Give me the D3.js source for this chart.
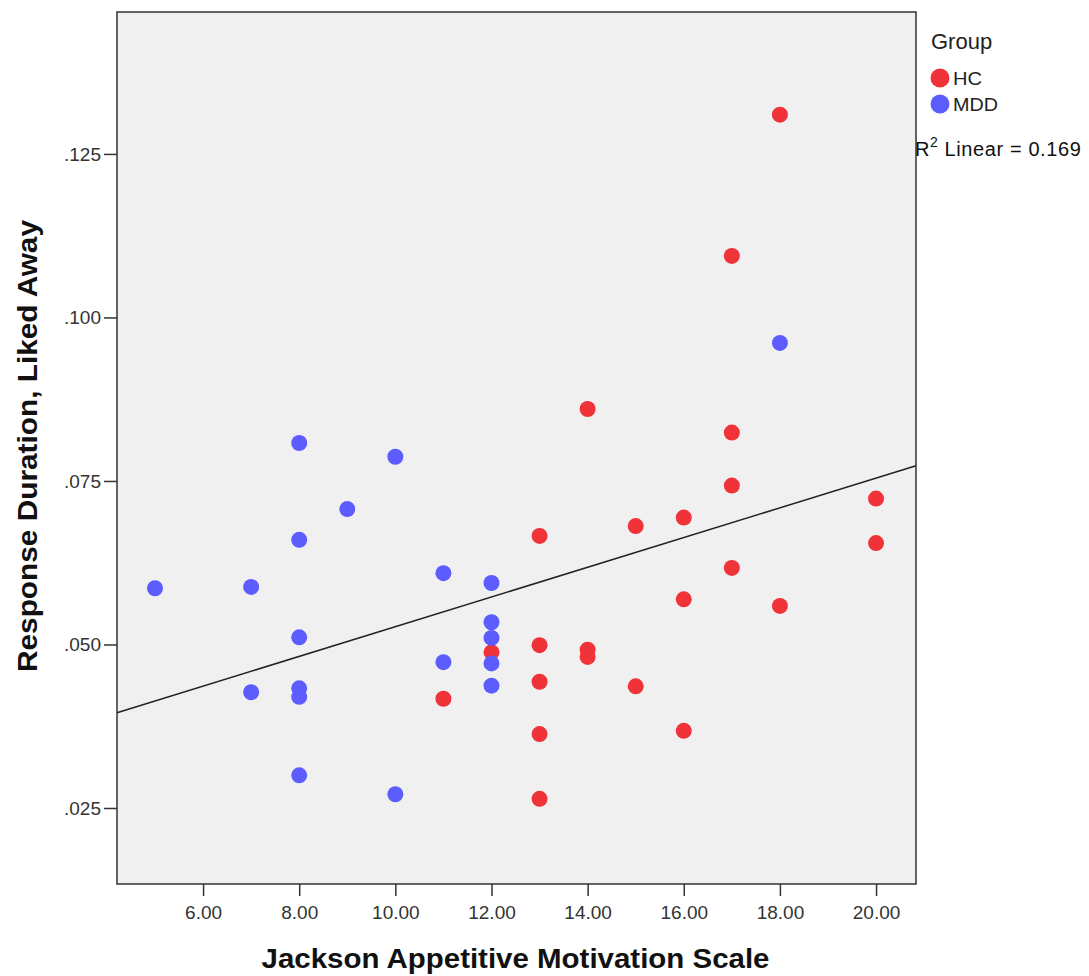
<!DOCTYPE html>
<html>
<head>
<meta charset="utf-8">
<script src="https://cdn.jsdelivr.net/npm/d3@7"></script>
<style>
  body { margin: 0; background: #fff; }
  text { font-family: "Liberation Sans", Arial, sans-serif; }
</style>
</head>
<body>
<div id="chart"></div>
<script>
// data
const hcX = [11, 12, 13, 13, 13, 13, 13, 14, 14, 14, 15, 15, 16, 16, 16, 17, 17, 17, 17, 18, 18, 20, 20];
const hcY = [.0417, .0488, .0666, .0499, .0443, .0363, .0264, .0860, .0492, .0481, .0681, .0436, .0694, .0569, .0368,
             .1094, .0824, .0743, .0617, .1310, .0559, .0723, .0655];
const mddX = [5, 7, 7, 8, 8, 8, 8, 8, 8, 9, 10, 10, 11, 11, 12, 12, 12, 12, 12, 18];
const mddY = [.0586, .0588, .0427, .0808, .0660, .0511, .0433, .0420, .0300, .0707, .0787, .0271, .0609, .0473,
              .0594, .0534, .0510, .0471, .0437, .0961];
const groups = ["HC", "MDD"];
const groupColors = ["#ef3338", "#5c5cff"];
const xTicks = [6, 8, 10, 12, 14, 16, 18, 20];
const yTicks = [.025, .050, .075, .100, .125];
// fit line (total sample)
const fitIntercept = 0.03001;
const fitSlope = 0.002271;
const rSquared = 0.169;

const width = 1089, height = 976;
const plot = { left: 117, top: 12, right: 916, bottom: 884 };

const svg = d3.select("#chart").append("svg")
  .attr("width", width)
  .attr("height", height);

const x = d3.scaleLinear().domain([4.2095, 20.831]).range([plot.left, plot.right]);
const y = d3.scaleLinear().domain([0.01338, 0.1467]).range([plot.bottom, plot.top]);

// plot background
svg.append("rect")
  .attr("x", plot.left).attr("y", plot.top)
  .attr("width", plot.right - plot.left)
  .attr("height", plot.bottom - plot.top)
  .attr("fill", "#f0f0f0");

// axes
const xAxis = svg.append("g")
  .attr("transform", `translate(0,${plot.bottom})`)
  .call(d3.axisBottom(x).tickValues(xTicks).tickSize(12).tickSizeOuter(0).tickPadding(10)
    .tickFormat(d3.format(".2f")));
const yAxis = svg.append("g")
  .attr("transform", `translate(${plot.left},0)`)
  .call(d3.axisLeft(y).tickValues(yTicks).tickSize(13).tickSizeOuter(0).tickPadding(3)
    .tickFormat(d => d3.format(".3f")(d).replace(/^0/, "")));

[xAxis, yAxis].forEach(g => {
  g.select(".domain").remove();
  g.selectAll("line").attr("stroke", "#333").attr("stroke-width", 1.5);
  g.selectAll("text")
    .attr("fill", "#333")
    .style("font-size", "19px")
    .style("font-family", "'Liberation Sans', Arial, sans-serif");
});

// regression line
const [x0, x1] = x.domain();
svg.append("line")
  .attr("x1", x(x0)).attr("y1", y(fitIntercept + fitSlope * x0))
  .attr("x2", x(x1)).attr("y2", y(fitIntercept + fitSlope * x1))
  .attr("stroke", "#222")
  .attr("stroke-width", 1.5);

// points
const pointSets = [
  hcX.map((v, i) => ({ x: v, y: hcY[i], g: 0 })),
  mddX.map((v, i) => ({ x: v, y: mddY[i], g: 1 }))
];
const pts = svg.append("g");
pointSets.forEach(set => {
  pts.selectAll(null)
    .data(set)
    .enter()
    .append("circle")
    .attr("cx", d => x(d.x))
    .attr("cy", d => y(d.y))
    .attr("r", 8)
    .attr("fill", d => groupColors[d.g]);
});

// frame
svg.append("rect")
  .attr("x", plot.left).attr("y", plot.top)
  .attr("width", plot.right - plot.left)
  .attr("height", plot.bottom - plot.top)
  .attr("fill", "none")
  .attr("stroke", "#333")
  .attr("stroke-width", 1.5);

// axis titles
svg.append("text")
  .attr("x", (plot.left + plot.right) / 2 - 1)
  .attr("y", 968)
  .attr("text-anchor", "middle")
  .style("font-size", "28px")
  .style("font-weight", "bold")
  .attr("fill", "#111")
  .attr("textLength", 508)
  .attr("lengthAdjust", "spacingAndGlyphs")
  .text("Jackson Appetitive Motivation Scale");

svg.append("text")
  .attr("transform", "translate(37,446) rotate(-90)")
  .attr("text-anchor", "middle")
  .style("font-size", "28px")
  .style("font-weight", "bold")
  .attr("fill", "#111")
  .attr("textLength", 452)
  .attr("lengthAdjust", "spacingAndGlyphs")
  .text("Response Duration, Liked Away");

// legend
const legend = svg.append("g");
legend.append("text")
  .attr("x", 931).attr("y", 49)
  .style("font-size", "22px")
  .attr("fill", "#222")
  .text("Group");
groups.forEach((name, i) => {
  legend.append("circle")
    .attr("cx", 940).attr("cy", 78 + i * 26)
    .attr("r", 9.5)
    .attr("fill", groupColors[i]);
  legend.append("text")
    .attr("x", 953).attr("y", 85 + i * 26)
    .style("font-size", "19px")
    .attr("fill", "#222")
    .attr("textLength", i === 0 ? 29 : 45)
    .attr("lengthAdjust", "spacingAndGlyphs")
    .text(name);
});

const r2 = legend.append("text")
  .attr("x", 915).attr("y", 156)
  .style("font-size", "20px")
  .style("letter-spacing", "0.6px")
  .attr("fill", "#111");
r2.append("tspan").text("R");
r2.append("tspan").attr("dy", -9).style("font-size", "14px").text("2");
r2.append("tspan").attr("dy", 9).text(" Linear = " + rSquared.toFixed(3));
</script>
</body>
</html>
